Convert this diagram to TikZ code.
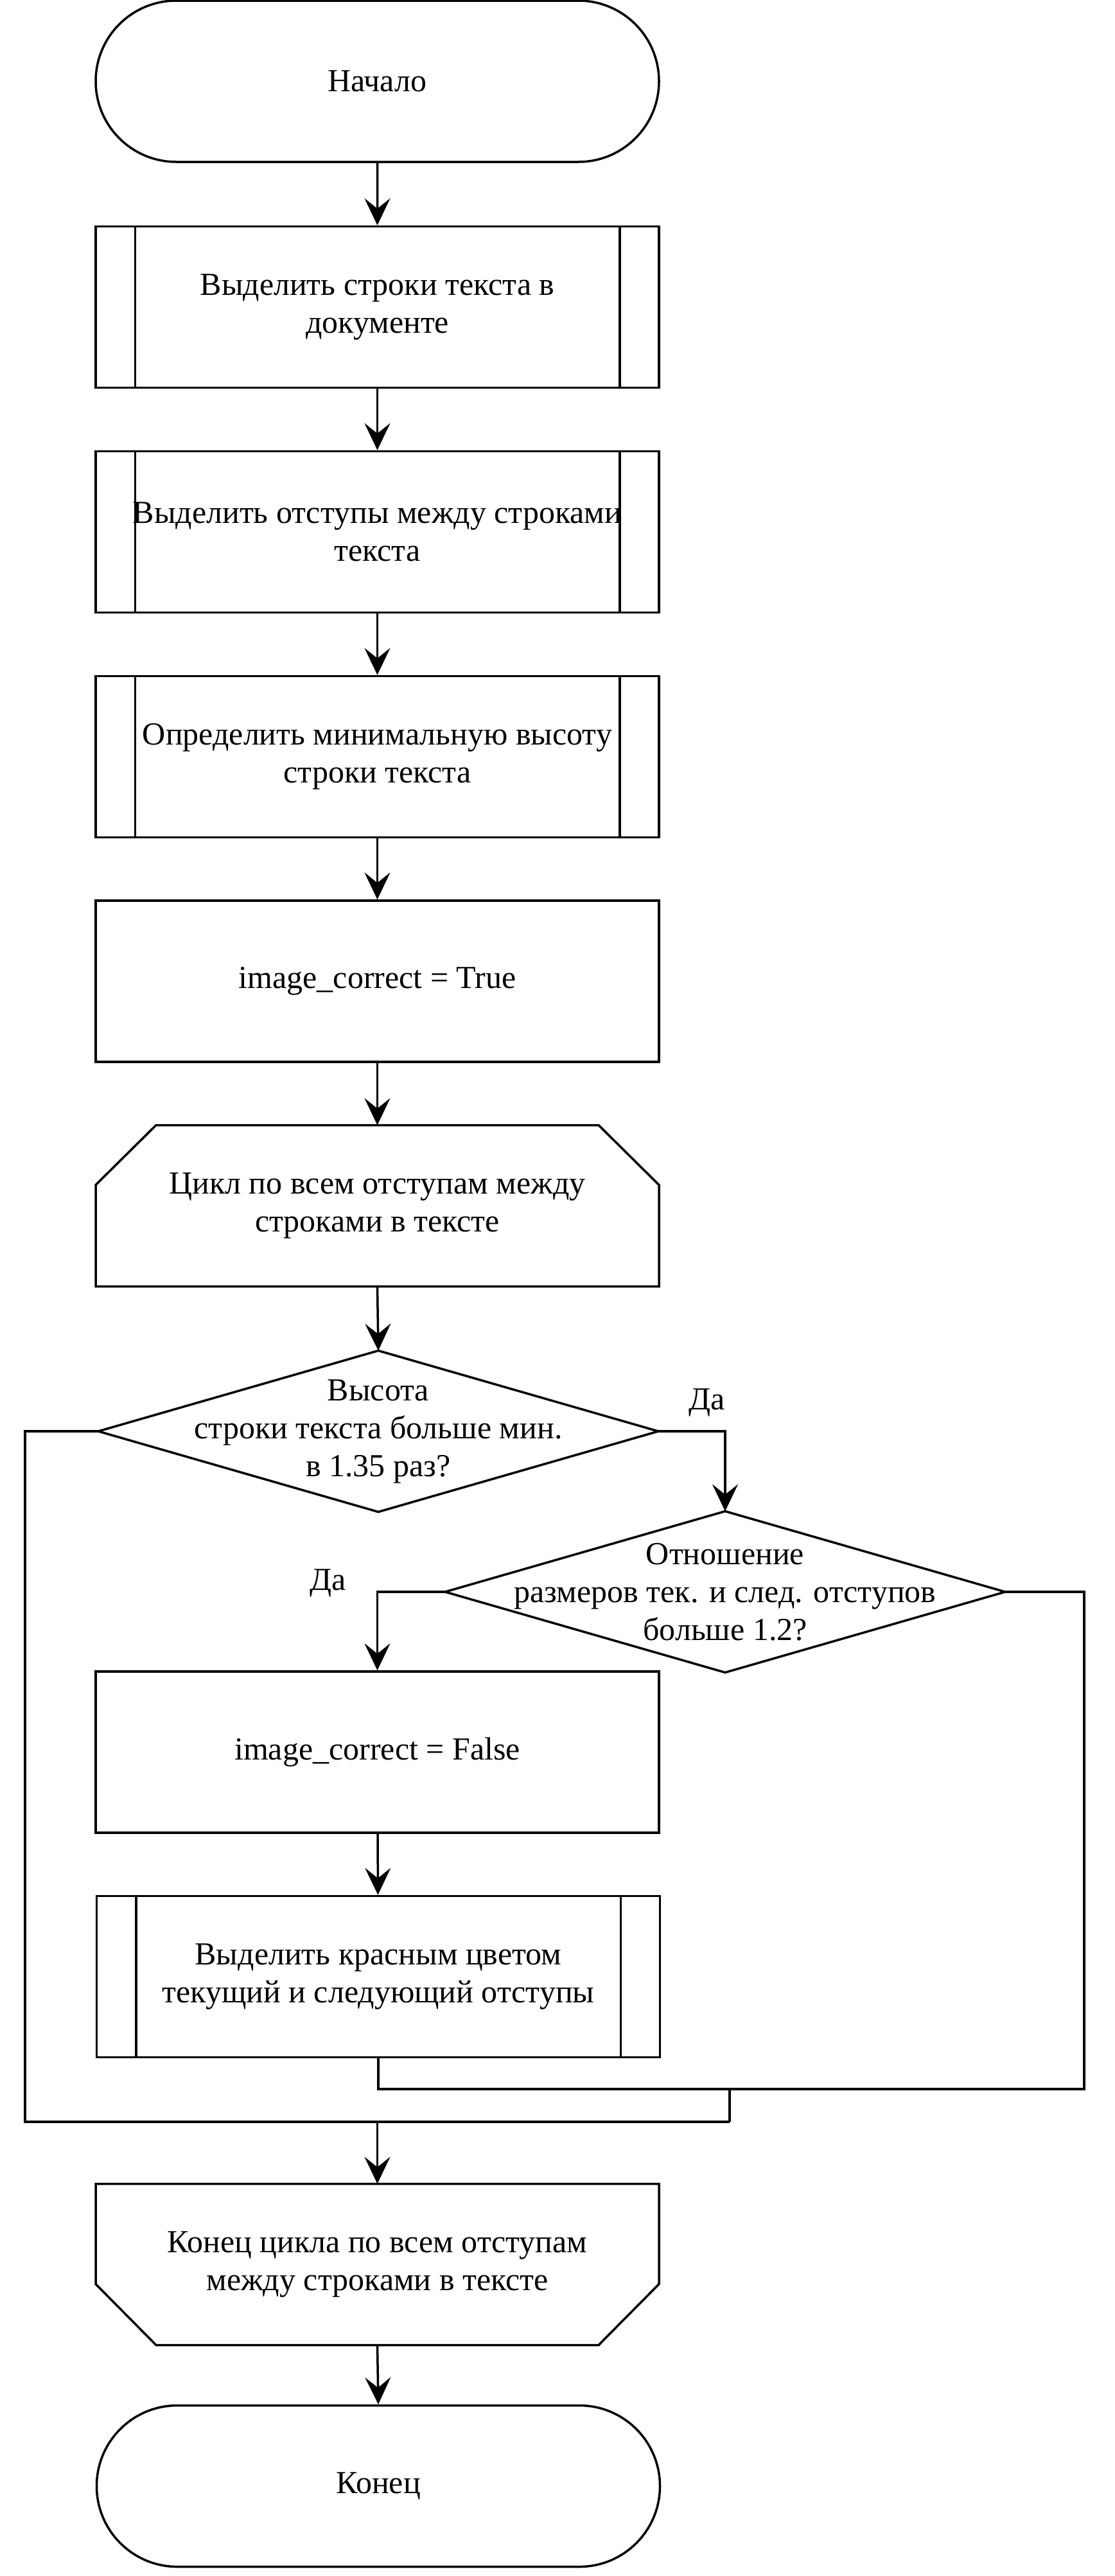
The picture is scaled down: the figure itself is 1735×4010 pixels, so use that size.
\documentclass[tikz,border=0pt]{standalone}
\usepackage{fontspec}
\setmainfont{Liberation Serif}
\usetikzlibrary{shapes.misc,arrows.meta}
\begin{document}
\begin{tikzpicture}[x=0.5pt,y=-0.5pt,
  line width=1.75pt,
  every node/.style={font=\fontsize{25pt}{29.5pt}\selectfont, align=center, inner sep=0pt},
  term/.style={rounded rectangle, draw, minimum width=438.5pt, minimum height=125.5pt},
  proc/.style={rectangle, draw, minimum width=438.5pt, minimum height=125.5pt},
  frame/.style={rectangle, draw=none, outer sep=0pt, minimum width=438.5pt, minimum height=125.5pt},
  dia/.style={rectangle, draw=none, outer sep=0pt, minimum width=436pt, minimum height=125.5pt},
  arr/.style={-{Stealth[length=21pt,width=20pt,inset=8pt]}},
  lbl/.style={}
]
\useasboundingbox (0,0) rectangle (1735,4010);

\node[term] (start) at (587.5,126.5) {Начало};
\node[proc] (b1) at (587.5,478) {Выделить строки текста в\\документе};
\node[proc] (b2) at (587.5,828) {Выделить отступы между строками\\текста};
\node[proc] (b3) at (587.5,1178) {Определить минимальную высоту\\строки текста};
\node[proc] (t1) at (587.5,1527.5) {image\_correct = True};
\node[frame] (la) at (587.5,1877) {Цикл по всем отступам между\\строками в тексте};
\node[dia] (d1) at (589,2228) {Высота\\строки текста больше мин.\\в 1.35 раз?};
\node[dia] (d2) at (1129,2478) {Отношение\\размеров тек. и след. отступов\\больше 1.2?};
\node[proc] (f1) at (587.5,2727.5) {image\_correct = False};
\node[proc] (red) at (589,3077) {Выделить красным цветом\\текущий и следующий отступы};
\node[frame] (lb) at (587.5,3525) {Конец цикла по всем отступам\\между строками в тексте};
\node[term] (end) at (589,3870) {Конец};

\node[lbl] (da1) at (1101,2183) {Да};
\node[lbl] (da2) at (511,2464) {Да};

% shapes drawn from frames
\foreach \n in {b1,b2,b3,red} {
  \draw ([xshift=31.5pt]\n.north west) -- ([xshift=31.5pt]\n.south west);
  \draw ([xshift=-31.5pt]\n.north east) -- ([xshift=-31.5pt]\n.south east);
}
\draw ([xshift=47pt]la.north west) -- ([xshift=-47pt]la.north east) -- ([yshift=-46.5pt]la.north east)
  -- (la.south east) -- (la.south west) -- ([yshift=-46.5pt]la.north west) -- cycle;
\draw (lb.north west) -- (lb.north east) -- ([yshift=47.5pt]lb.south east)
  -- ([xshift=-47pt]lb.south east) -- ([xshift=47pt]lb.south west) -- ([yshift=47.5pt]lb.south west) -- cycle;
\draw (d1.north) -- (d1.east) -- (d1.south) -- (d1.west) -- cycle;
\draw (d2.north) -- (d2.east) -- (d2.south) -- (d2.west) -- cycle;

% connectors
\draw[arr] (start) -- (b1);
\draw[arr] (b1) -- (b2);
\draw[arr] (b2) -- (b3);
\draw[arr] (b3) -- (t1);
\draw[arr] (t1) -- (la);
\draw[arr] (la.south) -- (d1.north);
\draw[arr] (d1.east) -| (d2.north);
\draw[arr] (d2.west) -| (f1.north);
\draw[arr] (f1) -- (red);

\coordinate (rr) at (1688,3252);
\coordinate (j2) at (1136,3252);
\coordinate (j3) at (1136,3303);
\coordinate (ll) at (39,3303);
\coordinate (j4) at (587.5,3303);
\draw (d2.east) -| (rr) -| (red.south);
\draw (j2) -- (j3);
\draw (d1.west) -| (ll) -- (j3);
\draw[arr] (j4) -- (lb.north);
\draw[arr] (lb.south) -- (end.north);
\end{tikzpicture}
\end{document}
